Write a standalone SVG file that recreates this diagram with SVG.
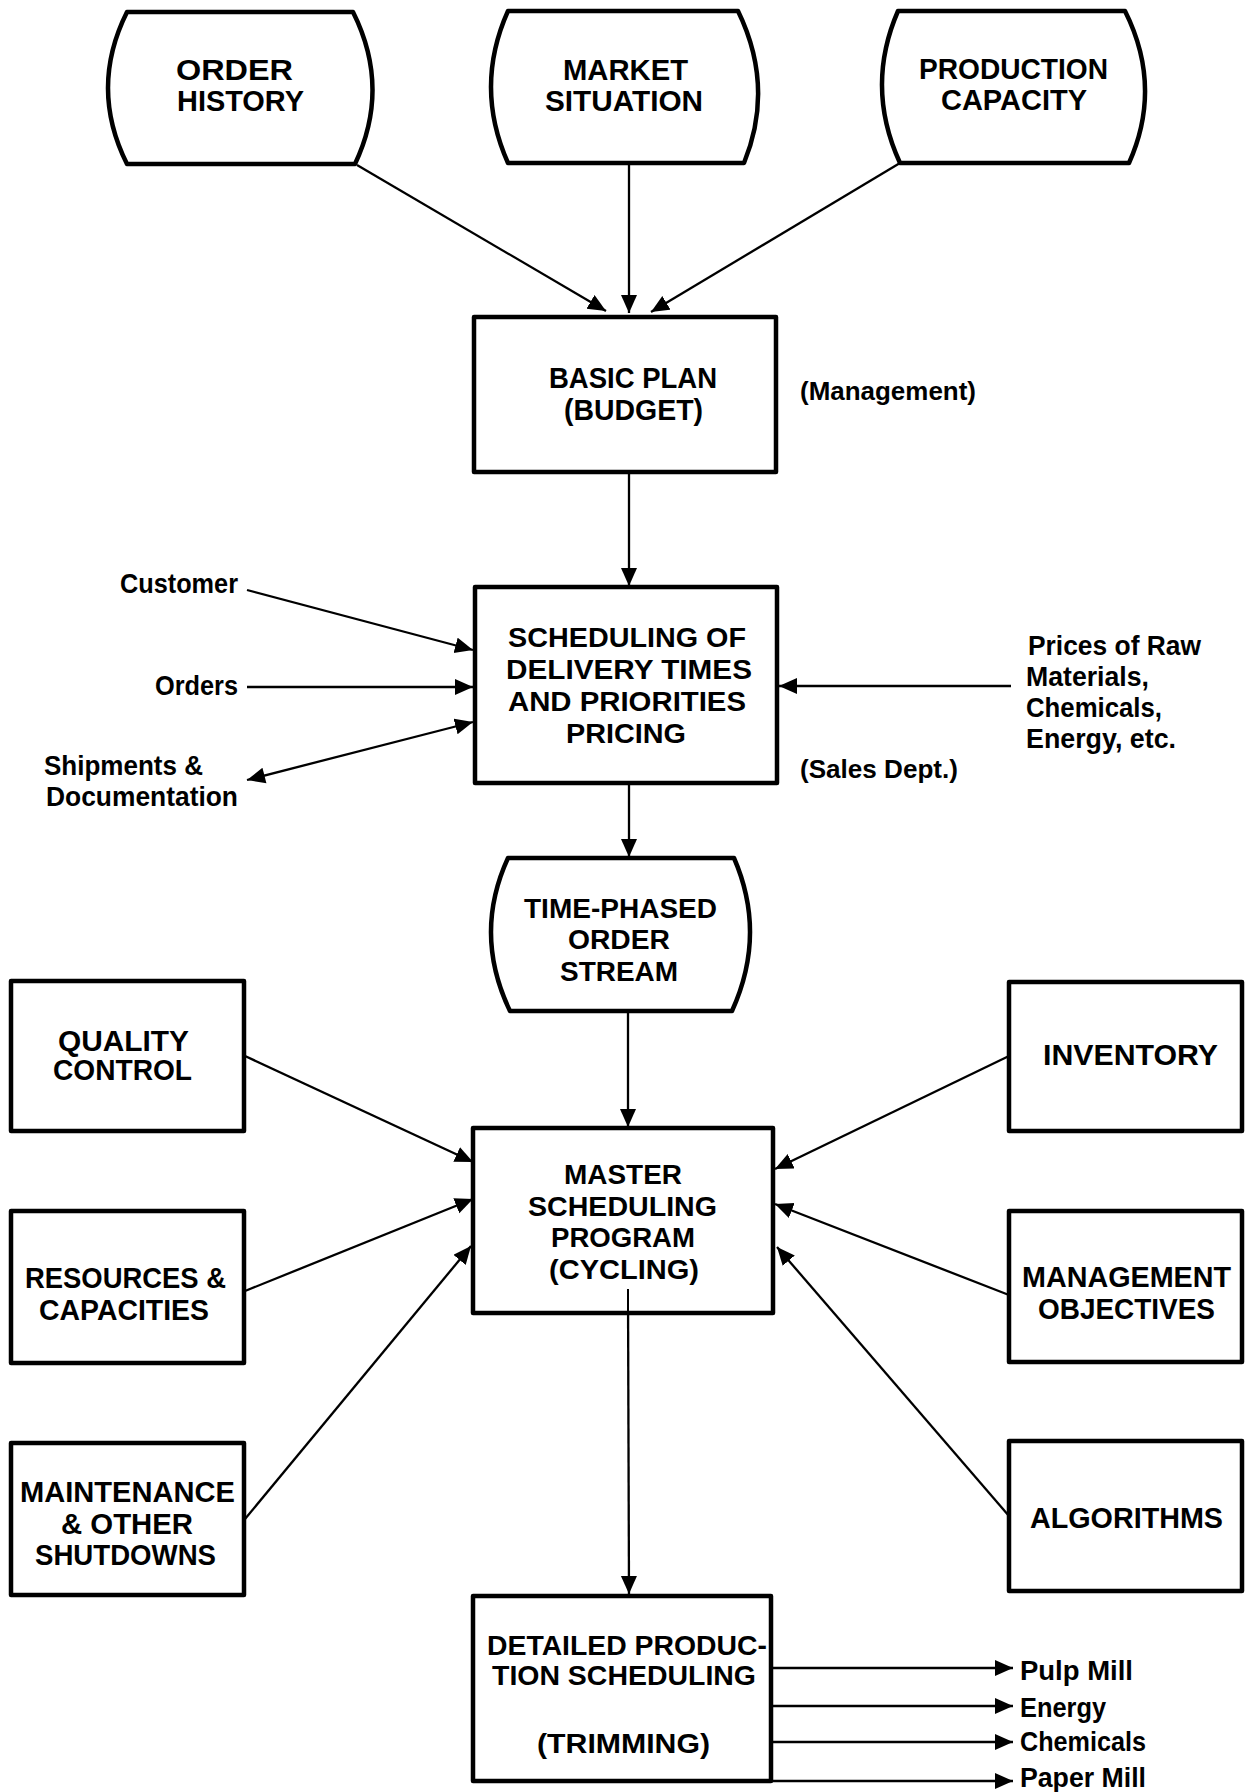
<svg xmlns="http://www.w3.org/2000/svg" width="1245" height="1792" viewBox="0 0 1245 1792">
<style>
.shape{fill:#fff;stroke:#000;stroke-width:4.5;stroke-linejoin:round}
.t{font-family:"Liberation Sans",Arial,sans-serif;font-weight:bold;fill:#000;font-size:29px}
.s{font-size:27px}
.c{fill:none;stroke:#000;stroke-width:2.3}
</style>
<defs>
<marker id="ah" markerUnits="userSpaceOnUse" markerWidth="20" markerHeight="18" refX="18" refY="8" orient="auto">
<path d="M0,0 L18,8 L0,16 Z" fill="#000"/>
</marker>
<marker id="as" markerUnits="userSpaceOnUse" markerWidth="20" markerHeight="18" refX="0" refY="8" orient="auto">
<path d="M18,0 L0,8 L18,16 Z" fill="#000"/>
</marker>
</defs>
<rect width="1245" height="1792" fill="#fff"/>

<g id="connectors">
<line class="c" x1="357" y1="165" x2="606" y2="311" marker-end="url(#ah)"/>
<line class="c" x1="629" y1="163" x2="629" y2="313" marker-end="url(#ah)"/>
<line class="c" x1="900" y1="163" x2="651" y2="312" marker-end="url(#ah)"/>
<line class="c" x1="629" y1="472" x2="629" y2="586" marker-end="url(#ah)"/>
<line class="c" x1="247" y1="590" x2="473" y2="650" marker-end="url(#ah)"/>
<line class="c" x1="247" y1="687" x2="473" y2="687" marker-end="url(#ah)"/>
<line class="c" x1="247" y1="780" x2="473" y2="722" marker-start="url(#as)" marker-end="url(#ah)"/>
<line class="c" x1="1011" y1="686" x2="779" y2="686" marker-end="url(#ah)"/>
<line class="c" x1="629" y1="783" x2="629" y2="857" marker-end="url(#ah)"/>
<line class="c" x1="628" y1="1011" x2="628" y2="1127" marker-end="url(#ah)"/>
<line class="c" x1="245" y1="1056" x2="473" y2="1162" marker-end="url(#ah)"/>
<line class="c" x1="245" y1="1291" x2="473" y2="1199" marker-end="url(#ah)"/>
<line class="c" x1="245" y1="1519" x2="471" y2="1246" marker-end="url(#ah)"/>
<line class="c" x1="1009" y1="1056" x2="775" y2="1169" marker-end="url(#ah)"/>
<line class="c" x1="1009" y1="1295" x2="775" y2="1204" marker-end="url(#ah)"/>
<line class="c" x1="1009" y1="1516" x2="777" y2="1247" marker-end="url(#ah)"/>
<line class="c" x1="628" y1="1291" x2="629" y2="1594" marker-end="url(#ah)"/>
<line class="c" x1="772" y1="1668" x2="1013" y2="1668" marker-end="url(#ah)"/>
<line class="c" x1="772" y1="1706" x2="1013" y2="1706" marker-end="url(#ah)"/>
<line class="c" x1="772" y1="1742" x2="1013" y2="1742" marker-end="url(#ah)"/>
<line class="c" x1="772" y1="1781" x2="1013" y2="1781" marker-end="url(#ah)"/>
</g>

<g id="order-history">
<path class="shape" d="M127,12 L353,12 Q391,88 355,164 L127,164 Q89,88 127,12 Z"/>
<text class="t" x="176" y="80" textLength="117" lengthAdjust="spacingAndGlyphs">ORDER</text>
<text class="t" x="177" y="111" textLength="127" lengthAdjust="spacingAndGlyphs">HISTORY</text>
</g>

<g id="market-situation">
<path class="shape" d="M508,11 L738,11 Q775,87 744,163 L508,163 Q474,87 508,11 Z"/>
<text class="t" x="563" y="80" textLength="125" lengthAdjust="spacingAndGlyphs">MARKET</text>
<text class="t" x="545" y="111" textLength="158" lengthAdjust="spacingAndGlyphs">SITUATION</text>
</g>

<g id="production-capacity">
<path class="shape" d="M898,11 L1125,11 Q1163,87 1129,163 L900,163 Q865,87 898,11 Z"/>
<text class="t" x="919" y="79" textLength="189" lengthAdjust="spacingAndGlyphs">PRODUCTION</text>
<text class="t" x="941" y="110" textLength="146" lengthAdjust="spacingAndGlyphs">CAPACITY</text>
</g>

<g id="basic-plan">
<rect class="shape" x="474" y="317" width="302" height="155"/>
<text class="t" x="549" y="388" textLength="168" lengthAdjust="spacingAndGlyphs">BASIC PLAN</text>
<text class="t" x="564" y="420" textLength="139" lengthAdjust="spacingAndGlyphs">(BUDGET)</text>
</g>

<g id="management-label">
<text class="t" x="800" y="400" font-size="24" textLength="176" lengthAdjust="spacingAndGlyphs" style="font-size:25px">(Management)</text>
</g>

<g id="scheduling">
<rect class="shape" x="475" y="587" width="302" height="196"/>
<text class="t s" x="508" y="647" textLength="238" lengthAdjust="spacingAndGlyphs">SCHEDULING OF</text>
<text class="t s" x="506" y="679" textLength="246" lengthAdjust="spacingAndGlyphs">DELIVERY TIMES</text>
<text class="t s" x="508" y="711" textLength="238" lengthAdjust="spacingAndGlyphs">AND PRIORITIES</text>
<text class="t s" x="566" y="743" textLength="120" lengthAdjust="spacingAndGlyphs">PRICING</text>
</g>

<g id="customer">
<text class="t s" x="120" y="593" textLength="118" lengthAdjust="spacingAndGlyphs">Customer</text>
</g>
<g id="orders">
<text class="t s" x="155" y="695" textLength="83" lengthAdjust="spacingAndGlyphs">Orders</text>
</g>
<g id="shipments">
<text class="t s" x="44" y="775" textLength="159" lengthAdjust="spacingAndGlyphs">Shipments &amp;</text>
<text class="t s" x="46" y="806" textLength="192" lengthAdjust="spacingAndGlyphs">Documentation</text>
</g>
<g id="prices">
<text class="t s" x="1028" y="655" textLength="173" lengthAdjust="spacingAndGlyphs">Prices of Raw</text>
<text class="t s" x="1026" y="686" textLength="123" lengthAdjust="spacingAndGlyphs">Materials,</text>
<text class="t s" x="1026" y="717" textLength="136" lengthAdjust="spacingAndGlyphs">Chemicals,</text>
<text class="t s" x="1026" y="748" textLength="150" lengthAdjust="spacingAndGlyphs">Energy, etc.</text>
</g>
<g id="sales-label">
<text class="t" x="800" y="778" textLength="158" lengthAdjust="spacingAndGlyphs" style="font-size:25px">(Sales Dept.)</text>
</g>

<g id="time-phased">
<path class="shape" d="M508,858 L734,858 Q767,934 732,1011 L510,1011 Q473,934 508,858 Z"/>
<text class="t s" x="524" y="918" textLength="193" lengthAdjust="spacingAndGlyphs">TIME-PHASED</text>
<text class="t s" x="568" y="949" textLength="102" lengthAdjust="spacingAndGlyphs">ORDER</text>
<text class="t s" x="560" y="981" textLength="118" lengthAdjust="spacingAndGlyphs">STREAM</text>
</g>

<g id="quality-control">
<rect class="shape" x="11" y="981" width="233" height="150"/>
<text class="t" x="58" y="1051" textLength="131" lengthAdjust="spacingAndGlyphs">QUALITY</text>
<text class="t" x="53" y="1080" textLength="139" lengthAdjust="spacingAndGlyphs">CONTROL</text>
</g>
<g id="resources">
<rect class="shape" x="11" y="1211" width="233" height="152"/>
<text class="t" x="25" y="1288" textLength="201" lengthAdjust="spacingAndGlyphs">RESOURCES &amp;</text>
<text class="t" x="39" y="1320" textLength="170" lengthAdjust="spacingAndGlyphs">CAPACITIES</text>
</g>
<g id="maintenance">
<rect class="shape" x="11" y="1443" width="233" height="152"/>
<text class="t" x="20" y="1502" textLength="215" lengthAdjust="spacingAndGlyphs">MAINTENANCE</text>
<text class="t" x="61" y="1534" textLength="132" lengthAdjust="spacingAndGlyphs">&amp; OTHER</text>
<text class="t" x="35" y="1565" textLength="181" lengthAdjust="spacingAndGlyphs">SHUTDOWNS</text>
</g>

<g id="master-scheduling">
<rect class="shape" x="473" y="1128" width="300" height="185"/>
<text class="t s" x="564" y="1184" textLength="118" lengthAdjust="spacingAndGlyphs">MASTER</text>
<text class="t s" x="528" y="1216" textLength="189" lengthAdjust="spacingAndGlyphs">SCHEDULING</text>
<text class="t s" x="551" y="1247" textLength="144" lengthAdjust="spacingAndGlyphs">PROGRAM</text>
<text class="t s" x="549" y="1279" textLength="150" lengthAdjust="spacingAndGlyphs">(CYCLING)</text>
<line x1="628" y1="1289" x2="628" y2="1313" stroke="#000" stroke-width="2"/>
</g>

<g id="inventory">
<rect class="shape" x="1009" y="982" width="233" height="149"/>
<text class="t" x="1043" y="1065" textLength="175" lengthAdjust="spacingAndGlyphs">INVENTORY</text>
</g>
<g id="management-objectives">
<rect class="shape" x="1009" y="1211" width="233" height="151"/>
<text class="t" x="1022" y="1287" textLength="209" lengthAdjust="spacingAndGlyphs">MANAGEMENT</text>
<text class="t" x="1038" y="1319" textLength="177" lengthAdjust="spacingAndGlyphs">OBJECTIVES</text>
</g>
<g id="algorithms">
<rect class="shape" x="1009" y="1441" width="233" height="150"/>
<text class="t" x="1030" y="1528" textLength="193" lengthAdjust="spacingAndGlyphs">ALGORITHMS</text>
</g>

<g id="detailed-production">
<rect class="shape" x="473" y="1596" width="298" height="185"/>
<text class="t s" x="487" y="1655" textLength="280" lengthAdjust="spacingAndGlyphs">DETAILED PRODUC-</text>
<text class="t s" x="492" y="1685" textLength="264" lengthAdjust="spacingAndGlyphs">TION SCHEDULING</text>
<text class="t s" x="537" y="1753" textLength="173" lengthAdjust="spacingAndGlyphs">(TRIMMING)</text>
</g>

<g id="outputs">
<text class="t s" x="1020" y="1680" textLength="113" lengthAdjust="spacingAndGlyphs">Pulp Mill</text>
<text class="t s" x="1020" y="1717" textLength="86" lengthAdjust="spacingAndGlyphs">Energy</text>
<text class="t s" x="1020" y="1751" textLength="126" lengthAdjust="spacingAndGlyphs">Chemicals</text>
<text class="t s" x="1020" y="1787" textLength="126" lengthAdjust="spacingAndGlyphs">Paper Mill</text>
</g>
</svg>
